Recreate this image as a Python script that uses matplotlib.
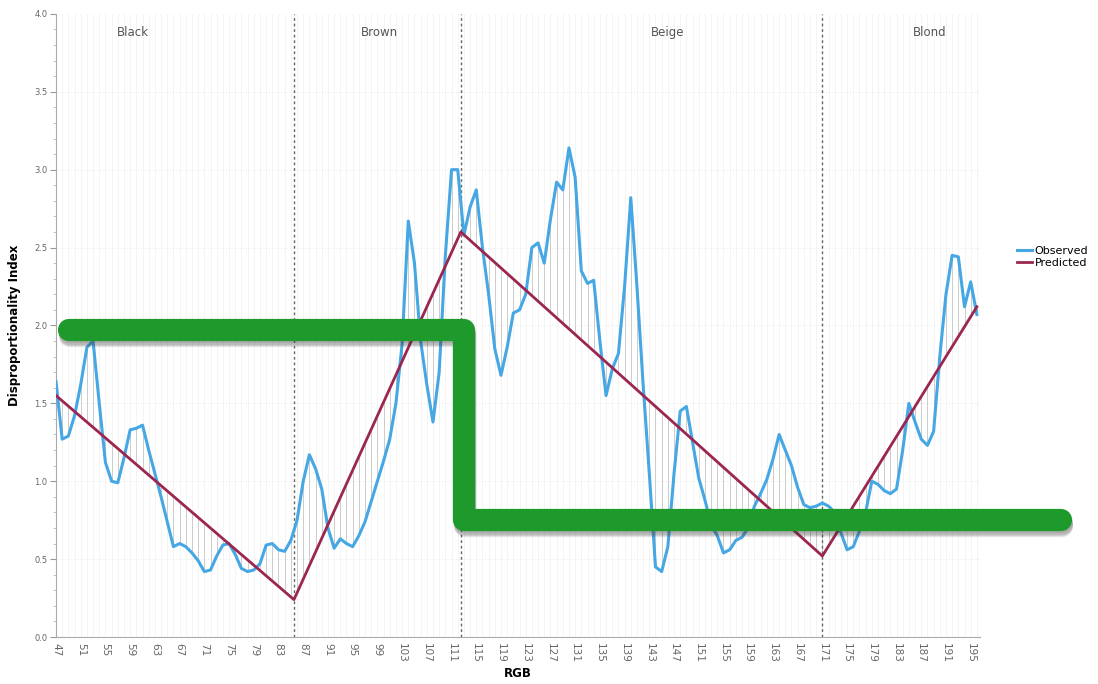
import matplotlib.pyplot as plt
import matplotlib.patheffects as pe
import numpy as np

# observed index for each RGB level 47..196
rgb = np.arange(47, 197)
observed = [
    1.64, 1.27, 1.29, 1.42, 1.62, 1.86, 1.90, 1.50, 1.12, 1.00,  # 47-56
    0.99, 1.15, 1.33, 1.34, 1.36, 1.20, 1.05, 0.90, 0.74, 0.58,  # 57-66
    0.60, 0.58, 0.54, 0.49, 0.42, 0.43, 0.52, 0.59, 0.60, 0.53,  # 67-76
    0.44, 0.42, 0.43, 0.47, 0.59, 0.60, 0.56, 0.55, 0.62, 0.75,  # 77-86
    1.00, 1.17, 1.08, 0.95, 0.70, 0.57, 0.63, 0.60, 0.58, 0.65,  # 87-96
    0.74, 0.87, 1.00, 1.13, 1.27, 1.50, 1.88, 2.67, 2.40, 1.90,  # 97-106
    1.62, 1.38, 1.70, 2.45, 3.00, 3.00, 2.58, 2.76, 2.87, 2.50,  # 107-116
    2.20, 1.85, 1.68, 1.86, 2.08, 2.10, 2.20, 2.50, 2.53, 2.40,  # 117-126
    2.68, 2.92, 2.87, 3.14, 2.95, 2.35, 2.27, 2.29, 1.90, 1.55,  # 127-136
    1.72, 1.82, 2.25, 2.82, 2.25, 1.62, 1.05, 0.45, 0.42, 0.58,  # 137-146
    1.05, 1.45, 1.48, 1.25, 1.02, 0.88, 0.72, 0.65, 0.54, 0.56,  # 147-156
    0.62, 0.64, 0.70, 0.84, 0.92, 1.01, 1.14, 1.30, 1.20, 1.10,  # 157-166
    0.96, 0.85, 0.83, 0.84, 0.86, 0.84, 0.80, 0.67, 0.56, 0.58,  # 167-176
    0.68, 0.80, 1.00, 0.98, 0.94, 0.92, 0.95, 1.20, 1.50, 1.38,  # 177-186
    1.27, 1.23, 1.32, 1.80, 2.20, 2.45, 2.44, 2.12, 2.28, 2.07,  # 187-196
]

# predicted model: straight segments between the breakpoints
pred_x = [47, 85.5, 112.5, 171, 196]
pred_y = [1.55, 0.24, 2.60, 0.52, 2.12]

# hair colour groups
groups = ['Black', 'Brown', 'Beige', 'Blond']
group_x = [59.5, 99.4, 145.9, 188.4]
bounds = [85.5, 112.5, 171]

# highlighted step drawn over the chart
step_x = [49.1, 113.0, 113.0, 209.6]
step_y = [1.97, 1.97, 0.75, 0.75]

fig = plt.figure(figsize=(10.98, 6.84), dpi=100)
ax = fig.add_axes([0.051, 0.0687, 0.8415, 0.911])

ax.set_xlim(47, 196.5)
ax.set_ylim(0, 4.0)

# faint background grid
for xv in range(47, 197):
    ax.axvline(xv, color='#f2f2f2', lw=0.6, zorder=0)
for yv in np.arange(0.5, 4.0, 0.5):
    ax.axhline(yv, color='#e8e8e8', lw=0.7, ls=(0, (1, 2)), zorder=0)

# gap between observed and predicted
pred_at = np.interp(rgb, pred_x, pred_y)
ax.vlines(rgb, np.minimum(observed, pred_at), np.maximum(observed, pred_at),
          color='#cccccc', lw=0.7, zorder=1)

for b in bounds:
    ax.axvline(b, color='#666666', lw=1.0, ls=(0, (2, 2)), zorder=1)

ax.plot(rgb, observed, color='#45a7e3', lw=2.2, label='Observed', zorder=3)
ax.plot(pred_x, pred_y, color='#9b2650', lw=2.0, label='Predicted', zorder=4)

for g, gx in zip(groups, group_x):
    ax.text(gx, 3.88, g, ha='center', va='center', fontsize=8.5, color='#555555')

# soft drop shadow built from a few faint offset strokes
shadow = [pe.SimpleLineShadow(offset=(1, -d), shadow_color='#333333', alpha=0.12)
          for d in (1.5, 2.5, 3.5, 4.5)]
ax.plot(step_x, step_y, color='#1d9a2b', lw=16, solid_capstyle='round',
        solid_joinstyle='round', clip_on=False, zorder=6,
        path_effects=shadow + [pe.Normal()])

ax.set_xticks(np.arange(47, 197, 4))
ax.set_xticklabels([str(v) for v in range(47, 197, 4)], rotation=-90,
                   fontsize=7.5, color='#666666')
ax.set_yticks(np.arange(0, 4.01, 0.5))
ax.set_yticklabels(['%.1f' % v for v in np.arange(0, 4.01, 0.5)],
                   fontsize=6, color='#666666')
ax.set_yticks(np.arange(0, 4.01, 0.1), minor=True)
ax.tick_params(axis='y', which='major', length=4, color='#999999', pad=2)
ax.tick_params(axis='y', which='minor', length=2, color='#bbbbbb')
ax.tick_params(axis='x', length=0, pad=4)

for s in ['top', 'right']:
    ax.spines[s].set_visible(False)
for s in ['left', 'bottom']:
    ax.spines[s].set_color('#aaaaaa')

ax.set_xlabel('RGB', fontsize=8.5, fontweight='bold', labelpad=3)
ax.set_ylabel('Disproportionality Index', fontsize=8.5, fontweight='bold', labelpad=10)

fig.legend(loc='upper left', bbox_to_anchor=(0.917, 0.655), frameon=False,
           fontsize=8, handlelength=1.4, handletextpad=0.2, labelspacing=0.2)

fig.savefig('out.png', dpi=100)
